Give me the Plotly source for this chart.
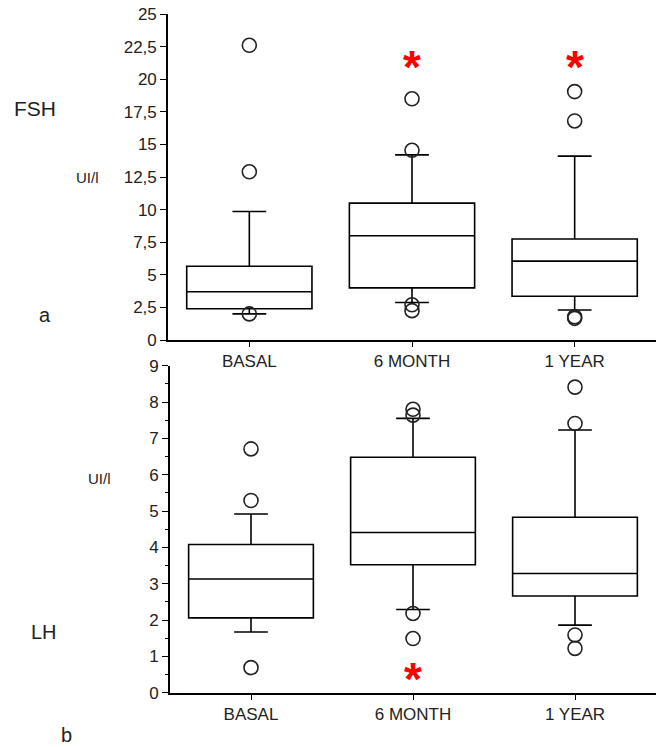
import plotly.graph_objects as go

categories = ["BASAL", "6 MONTH", "1 YEAR"]

# FSH (panel a)
fsh_q1 = [2.4, 4.0, 3.35]
fsh_median = [3.7, 8.0, 6.05]
fsh_q3 = [5.65, 10.5, 7.75]
fsh_lowerfence = [2.0, 2.88, 2.3]
fsh_upperfence = [9.85, 14.2, 14.1]
fsh_outlier_cat = ["BASAL", "BASAL", "BASAL",
                   "6 MONTH", "6 MONTH", "6 MONTH", "6 MONTH",
                   "1 YEAR", "1 YEAR", "1 YEAR", "1 YEAR"]
fsh_outlier_val = [22.6, 12.9, 2.0, 18.5, 14.55, 2.7, 2.25, 19.05, 16.8, 1.78, 1.66]
fsh_sig_cat = ["6 MONTH", "1 YEAR"]
fsh_sig_val = [21.5, 21.5]
fsh_tickvals = [0, 2.5, 5, 7.5, 10, 12.5, 15, 17.5, 20, 22.5, 25]
fsh_ticktext = ["0", "2,5", "5", "7,5", "10", "12,5", "15", "17,5", "20", "22,5", "25"]

# LH (panel b)
lh_q1 = [2.06, 3.52, 2.66]
lh_median = [3.13, 4.41, 3.28]
lh_q3 = [4.08, 6.48, 4.83]
lh_lowerfence = [1.67, 2.29, 1.86]
lh_upperfence = [4.92, 7.55, 7.23]
lh_outlier_cat = ["BASAL", "BASAL", "BASAL",
                  "6 MONTH", "6 MONTH", "6 MONTH", "6 MONTH",
                  "1 YEAR", "1 YEAR", "1 YEAR", "1 YEAR"]
lh_outlier_val = [6.71, 5.29, 0.69, 7.80, 7.64, 2.18, 1.49, 8.41, 7.41, 1.59, 1.22]
lh_sig_cat = ["6 MONTH"]
lh_sig_val = [0.58]

FONT = "Liberation Sans, Arial, sans-serif"
TXT = "#222222"
W, H = 656, 747

fig = go.Figure()

box_style = dict(fillcolor="white", line=dict(color="black", width=1.6),
                 width=0.77, whiskerwidth=0.27, boxpoints=False,
                 showlegend=False, hoverinfo="skip")
mk = dict(symbol="circle-open", size=14, color="#222222", line=dict(width=1.6))

fig.add_trace(go.Box(x=categories, q1=fsh_q1, median=fsh_median, q3=fsh_q3,
                     lowerfence=fsh_lowerfence, upperfence=fsh_upperfence,
                     xaxis="x", yaxis="y", **box_style))
fig.add_trace(go.Scatter(x=fsh_outlier_cat, y=fsh_outlier_val, mode="markers",
                         marker=mk, showlegend=False, xaxis="x", yaxis="y"))
fig.add_trace(go.Box(x=categories, q1=lh_q1, median=lh_median, q3=lh_q3,
                     lowerfence=lh_lowerfence, upperfence=lh_upperfence,
                     xaxis="x2", yaxis="y2", **box_style))
fig.add_trace(go.Scatter(x=lh_outlier_cat, y=lh_outlier_val, mode="markers",
                         marker=mk, showlegend=False, xaxis="x2", yaxis="y2"))

annotations = []
star_font = dict(family=FONT, size=46, color="#ff0000")
for c, v in zip(fsh_sig_cat, fsh_sig_val):
    annotations.append(dict(x=c, y=v, xref="x", yref="y", text="<b>*</b>",
                            showarrow=False, height=30, valign="top", yshift=4,
                            font=star_font))
for c, v in zip(lh_sig_cat, lh_sig_val):
    annotations.append(dict(x=c, y=v, xref="x2", yref="y2", text="<b>*</b>",
                            showarrow=False, height=30, valign="top", yshift=4,
                            font=star_font))

def fx(px):
    return px / W

def fy(py):
    return 1 - py / H

def lbl(text, px, py, size):
    annotations.append(dict(x=fx(px), y=fy(py), xref="paper", yref="paper",
                            text=text, showarrow=False, xanchor="center",
                            yanchor="middle",
                            font=dict(family=FONT, size=size, color=TXT)))

lbl("FSH", 35, 108, 21)
lbl("UI/l", 87, 178, 15)
lbl("a", 45, 315, 20)
lbl("UI/l", 99, 478, 15)
lbl("LH", 44, 632, 20)
lbl("b", 66, 735, 20)

axis_common = dict(showgrid=False, zeroline=False, showline=True,
                   linecolor="black", linewidth=1.6, ticks="outside",
                   tickcolor="black", tickwidth=1.4, automargin=False,
                   tickfont=dict(family=FONT, size=17, color=TXT))

fig.update_layout(
    width=W, height=H,
    margin=dict(l=0, r=0, t=0, b=0, pad=0, autoexpand=False),
    paper_bgcolor="white", plot_bgcolor="white",
    font=dict(family=FONT, color=TXT),
    xaxis=dict(domain=[fx(168), 1.0], range=[-0.5, 2.5], ticklen=5,
               anchor="y", **axis_common),
    yaxis=dict(domain=[fy(340), fy(14)], range=[0, 25],
               tickvals=fsh_tickvals, ticktext=fsh_ticktext, ticklen=6,
               anchor="x", **axis_common),
    xaxis2=dict(domain=[fx(170), 1.0], range=[-0.5, 2.5], ticklen=5,
                anchor="y2", **axis_common),
    yaxis2=dict(domain=[fy(692.7), fy(365.7)], range=[0, 9],
                dtick=1, tick0=0, ticklen=6, anchor="x2",
                minor=dict(dtick=0.5, ticks="outside", ticklen=3,
                           tickcolor="black", tickwidth=1.2),
                **axis_common),
    annotations=annotations,
)

fig.write_html("out.html",
               config={"displayModeBar": False},
               post_script="document.body.style.margin='0px';"
                           "document.body.style.overflow='hidden';")
